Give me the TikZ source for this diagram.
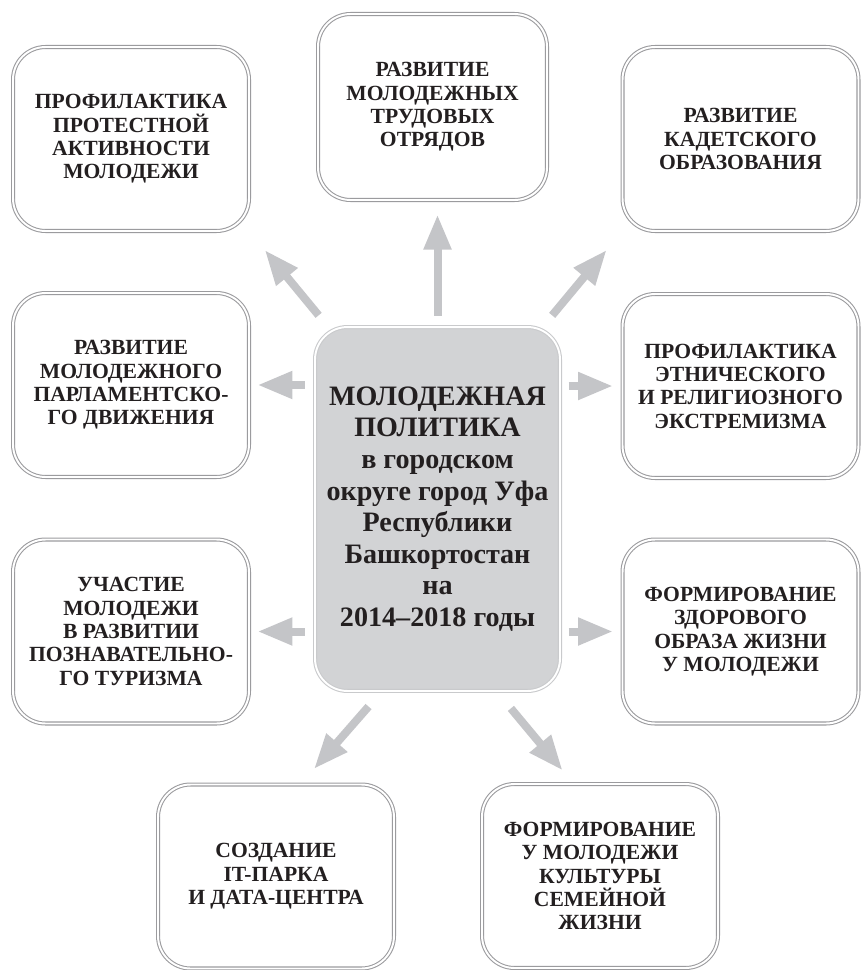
\documentclass[tikz,border=0pt]{standalone}
\usepackage{fontspec}
\setmainfont{Liberation Serif}
\usetikzlibrary{arrows.meta}
\definecolor{boxgray}{HTML}{9B9B9E}
\definecolor{hubline}{HTML}{C9CACC}
\definecolor{hubfill}{HTML}{D2D3D5}
\definecolor{arrgray}{HTML}{C4C5C8}
\definecolor{ink}{HTML}{231F20}
\tikzset{
  goal/.style={draw=boxgray, double=white, double distance=1.1pt, line width=0.6pt,
    rounded corners=0.65cm, minimum width=4.72cm, minimum height=3.68cm, inner sep=0pt,
    align=center, text=ink, font=\fontsize{12.3}{13.3}\selectfont\bfseries},
  hub/.style={goal, draw=hubline, fill=hubfill, minimum width=4.9cm, minimum height=7.28cm,
    font=\fontsize{16}{18}\selectfont\bfseries},
  arr/.style={draw=arrgray, line width=0.16cm, -{Triangle[length=0.7cm,width=0.52cm]}}
}

\begin{document}
\begin{tikzpicture}[x=0.02cm,y=-0.02cm]
        \useasboundingbox (0,0) rectangle (861,970);
        \node[hub] (MP) at (437.5,509) {МОЛОДЕЖНАЯ\\ПОЛИТИКА\\в городском\\округе город Уфа\\Республики\\Башкортостан\\на\\2014--2018 годы};
        \node[goal] (PA) at (131,139) {ПРОФИЛАКТИКА\\ПРОТЕСТНОЙ\\АКТИВНОСТИ\\МОЛОДЕЖИ};
        \node[goal,minimum width=4.58cm,minimum height=3.72cm] (TO) at (432.5,107) {РАЗВИТИЕ\\МОЛОДЕЖНЫХ\\ТРУДОВЫХ\\ОТРЯДОВ};
        \node[goal] (KO) at (740.5,139) {РАЗВИТИЕ\\КАДЕТСКОГО\\ОБРАЗОВАНИЯ};
        \node[goal] (PD) at (131,385) {РАЗВИТИЕ\\МОЛОДЕЖНОГО\\ПАРЛАМЕНТСКО-\\ГО ДВИЖЕНИЯ};
        \node[goal] (EE) at (740.5,386) {ПРОФИЛАКТИКА\\ЭТНИЧЕСКОГО\\И РЕЛИГИОЗНОГО\\ЭКСТРЕМИЗМА};
        \node[goal] (PT) at (131,631.5) {УЧАСТИЕ\\МОЛОДЕЖИ\\В РАЗВИТИИ\\ПОЗНАВАТЕЛЬНО-\\ГО ТУРИЗМА};
        \node[goal] (ZO) at (740.5,631.5) {ФОРМИРОВАНИЕ\\ЗДОРОВОГО\\ОБРАЗА ЖИЗНИ\\У МОЛОДЕЖИ};
        \node[goal] (IT) at (276,876.5) {СОЗДАНИЕ\\IT-ПАРКА\\И ДАТА-ЦЕНТРА};
        \node[goal] (SZ) at (600,876) {ФОРМИРОВАНИЕ\\У МОЛОДЕЖИ\\КУЛЬТУРЫ\\СЕМЕЙНОЙ\\ЖИЗНИ};

        \draw[arr,shorten <=0.22cm,shorten >=0.28cm] (MP.north) -- (MP.north |- TO.south);
        \draw[arr,shorten <=0.29cm,shorten >=0.48cm] (MP.121) -- (PA.south east);
        \draw[arr,shorten <=0.29cm,shorten >=0.48cm] (MP.60) -- (KO.south west);
        \draw[arr,shorten <=0.2cm,shorten >=0.16cm] (MP.west |- PD.east) -- (PD.east);
        \draw[arr,shorten <=0.16cm,shorten >=0.18cm] (MP.east |- EE.west) -- (EE.west);
        \draw[arr,shorten <=0.2cm,shorten >=0.16cm] (MP.west |- PT.east) -- (PT.east);
        \draw[arr,shorten <=0.16cm,shorten >=0.18cm] (MP.east |- ZO.west) -- (ZO.west);
        \draw[arr,shorten <=0.4cm,shorten >=0.4cm] (MP.253) -- (IT.75);
        \draw[arr,shorten <=0.44cm,shorten >=0.34cm] (MP.288) -- (SZ.106);
\end{tikzpicture}
\end{document}
